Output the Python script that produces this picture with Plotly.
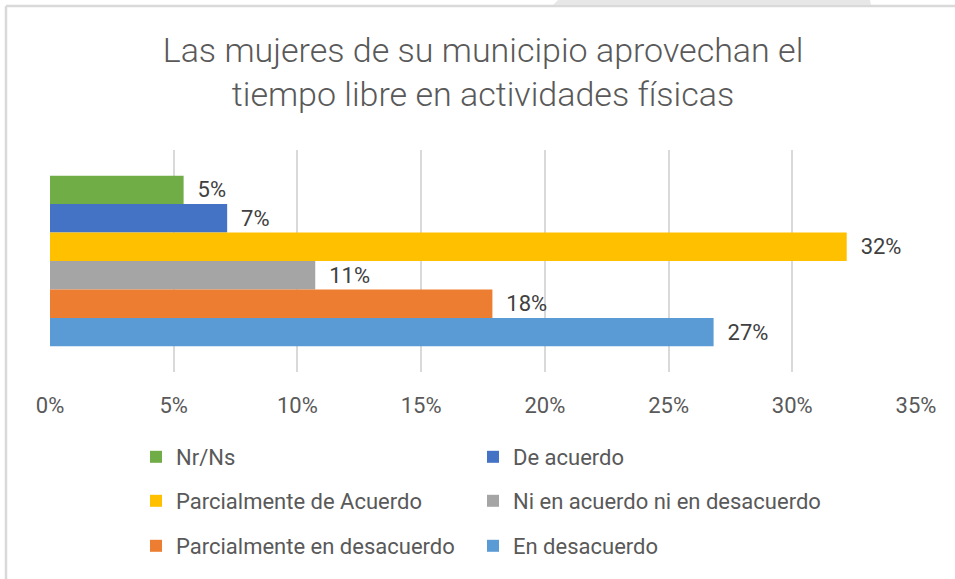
import plotly.graph_objects as go

categories = ["Respuesta"]
series_names = [
    "Nr/Ns",
    "De acuerdo",
    "Parcialmente de Acuerdo",
    "Ni en acuerdo ni en desacuerdo",
    "Parcialmente en desacuerdo",
    "En desacuerdo",
]
series_values = [0.054, 0.0716, 0.322, 0.1072, 0.1788, 0.2682]
series_colors = ["#70AD47", "#4472C4", "#FFC000", "#A5A5A5", "#ED7D31", "#5B9BD5"]
legend_ids = ["legend", "legend", "legend2", "legend2", "legend3", "legend3"]
left_column = [True, False, True, False, True, False]
x_ticks = [0, 0.05, 0.10, 0.15, 0.20, 0.25, 0.30, 0.35]
title_text = "Las mujeres de su municipio aprovechan el<br>tiempo libre en actividades físicas"

FONT = "Roboto"
fig = go.Figure()
for name, val, col, lg, left in zip(series_names, series_values, series_colors, legend_ids, left_column):
    kw = dict(legendwidth=292) if left else {}
    fig.add_trace(go.Bar(
        y=categories, x=[val], name=name, orientation="h",
        marker=dict(color=col, line=dict(width=0)),
        texttemplate="\u00a0\u00a0%{x:.0%}", textposition="outside",
        textfont=dict(family=FONT, size=22, color="#404040"),
        cliponaxis=False, legend=lg, **kw,
    ))

W, H = 955, 579
ml, mr, mt, mb = 50, 39, 150, 207
pw, ph = W - ml - mr, H - mt - mb

def px_x(p):
    return (p - ml) / pw

def px_y(p):
    return (H - mb - p) / ph

leg_common = dict(orientation="h",
                  font=dict(family=FONT, size=22, color="#595959"),
                  xanchor="left", yanchor="middle", bgcolor="rgba(0,0,0,0)",
                  traceorder="normal")

fig.update_layout(
    width=W, height=H,
    margin=dict(l=ml, r=mr, t=mt, b=mb),
    paper_bgcolor="white", plot_bgcolor="white",
    barmode="group", bargap=0.231, bargroupgap=0,
    title=dict(text=title_text, x=0.5, xref="paper", xanchor="center",
               y=1 - 62 / H, yref="container", yanchor="top",
               font=dict(family=FONT, size=34, color="#595959", weight=300)),
    xaxis=dict(range=[0, 0.35], tickvals=x_ticks, tickformat=".0%",
               showgrid=True, gridcolor="#D9D9D9", gridwidth=1.5,
               zeroline=False, showline=False, ticks="",
               ticklabelstandoff=18,
               tickfont=dict(family=FONT, size=22, color="#595959")),
    yaxis=dict(autorange="reversed", showticklabels=False, showgrid=False,
               zeroline=False, showline=False, ticks=""),
    legend=dict(x=px_x(136), y=px_y(457), **leg_common),
    legend2=dict(x=px_x(136), y=px_y(501), **leg_common),
    legend3=dict(x=px_x(136), y=px_y(546), **leg_common),
    showlegend=True,
)

# screenshot frame decorations
fig.add_shape(type="line", xref="paper", yref="paper",
              x0=px_x(6), x1=px_x(W), y0=px_y(6), y1=px_y(6),
              line=dict(color="#D9D9D9", width=2.5), layer="below")
fig.add_shape(type="line", xref="paper", yref="paper",
              x0=px_x(6), x1=px_x(6), y0=px_y(6), y1=px_y(H),
              line=dict(color="#D9D9D9", width=2.5), layer="below")
fig.add_shape(type="path", xref="paper", yref="paper",
              path=f"M {px_x(558)} {px_y(0)} L {px_x(870)} {px_y(0)} L {px_x(871)} {px_y(5)} L {px_x(553)} {px_y(5)} Z",
              fillcolor="#E7E7E7", line=dict(width=0), layer="below")

fig.write_html("out.html", config={"displayModeBar": False},
               post_script="document.body.style.margin='0';")
